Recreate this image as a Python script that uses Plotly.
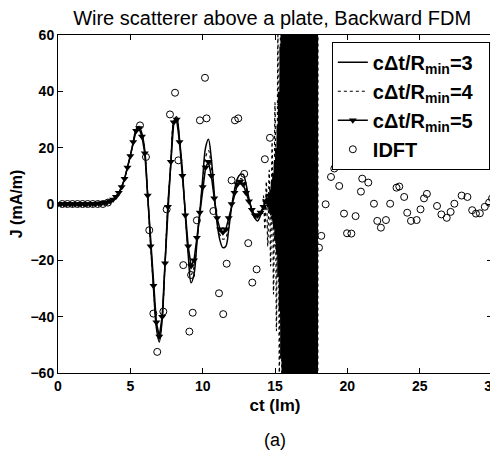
import numpy as np
import plotly.graph_objects as go

# time grid of the stable part (ct in lm)
ct_grid = np.round(np.arange(0, 14.41, 0.2), 2)

# c*dt/Rmin = 3 (solid)
j_dt3 = [0, 0, 0, 0, 0, 0, 0, 0, 0, 0, 0, 0, 0.1, 0.1, 0.2, 0.3, 0.4, 0.6, 1.0, 1.6,
         2.6, 4.0, 6.0, 9.0, 13, 17, 22, 26.5, 27.5, 25, 19, 3, -14, -30, -44, -49, -41, -21, 0, 14,
         29, 31, 23, 12, -4, -18, -28, -25, -14, -3, 9, 20, 23, 16, 4, -7, -13, -15.5, -15, -9,
         -1, 5, 9, 10.5, 10.5, 7, 2, -2, -5, -6, -4, -1, 2]
# c*dt/Rmin = 4 (dotted)
j_dt4 = [0, 0, 0, 0, 0, 0, 0, 0, 0, 0, 0, 0, 0.1, 0.1, 0.2, 0.3, 0.4, 0.6, 1.0, 1.6,
         2.6, 4.0, 6.0, 9.0, 13, 17, 22, 26, 27, 24.5, 18.5, 3, -14.5, -29.5, -43, -48, -40.5, -21, 0, 14.5,
         29, 30.5, 22.5, 11, -4, -16.5, -25, -22.5, -13, -3, 7.5, 16.5, 19, 13, 3, -6, -11, -12.5, -12, -7,
         -0.5, 4.5, 8, 9, 8.5, 5.5, 1.5, -2, -4.5, -5, -3.5]
# c*dt/Rmin = 5 (triangles)
j_dt5 = [0, 0, 0, 0, 0, 0, 0, 0, 0, 0, 0, 0, 0.1, 0.1, 0.2, 0.3, 0.4, 0.6, 1.0, 1.6,
         2.6, 4.0, 6.0, 9.0, 13, 17, 22, 26, 27, 24, 18, 3, -15, -29, -42, -47, -40, -21, -1, 15,
         29, 30, 22, 10, -4, -15, -22, -20, -12, -3, 6, 13, 15, 10, 2, -5, -9, -10, -9, -5,
         0, 4, 7, 8, 7, 4, 1, -2, -4, -4, -3, -1, 1]

# late-time instability of each scheme
ct_blow3 = np.round(np.arange(14.5, 17.96, 0.05), 2)
j_blow3 = [-1, 2, -3, 5, -4, 8, -6, 11, -9, 15, -13, 20, -18, 28, -26, 40, -38, 56, -55, 80,
           -80, 115, -120, 170, -180, 250, -300, 400, -400, 400, -400, 400, -400, 400, -400, 400,
           -400, 400, -400, 400, -400, 400, -400, 400, -400, 400, -400, 400, -400, 400, -400, 400,
           -400, 400, -400, 400, -400, 400, -400, 400, -400, 400, -400, 400, -400, 400, -400, 400,
           -400, 400]
ct_blow4 = np.round(np.arange(14.1, 18.01, 0.1), 2)
j_blow4 = [-4, 3, -9, 8, -15, 12, -22, 22, -32, 36, -45, 60, -62, 90, -110, 160, -220, 320, -450, 600,
           -800, 800, -800, 800, -800, 800, -800, 800, -800, 800, -800, 800, -800, 800, -800, 800,
           -800, 800, -800, 800]
ct_blow5 = np.round(np.arange(14.6, 18.01, 0.2), 2)
j_blow5 = [3, -2, 8, -15, 35, -80, 180, -400, 800, -800, 800, -800, 800, -800, 800, -800, 800, -800]

# IDFT reference samples
ct_idft = [0.3, 0.65, 1.0, 1.35, 1.7, 2.05, 2.4, 2.75, 3.1, 3.45,
           5.67, 6.08, 6.31, 6.59, 6.86, 7.28, 7.51, 7.74, 8.09, 8.32, 8.66, 9.08, 9.2, 9.31, 9.6,
           9.81, 10.16, 10.27, 10.74, 11.13, 11.42, 11.66, 12.0, 12.23, 12.46, 12.87, 13.15, 13.43,
           13.73, 14.3, 14.65, 15.2, 15.6, 16.1, 16.5, 16.9, 17.3, 17.7, 18.04, 18.2, 18.5, 18.87,
           19.1, 19.44, 19.77, 19.98, 20.28, 20.57, 20.94, 21.03, 21.45, 21.84, 22.07, 22.32, 22.67,
           22.96, 23.4, 23.59, 23.93, 24.14, 24.4, 24.79, 25.06, 25.3, 25.5, 26.2, 26.5, 26.87,
           27.14, 27.4, 27.9, 28.3, 28.63, 28.89, 29.16, 29.5, 29.8, 30.0]
j_idft = [0, 0, 0, 0, 0, 0, 0, 0, 0, 0.5,
          27.9, 16.7, -9.3, -38.9, -52.5, -38.2, -1.9, 31.8, 39.5, 15.5, -21.7, -45.3, -25.2, -38.6, -5.8,
          29.7, 44.8, 30.4, -2.5, -31.7, -39.1, -21.2, 8.4, 29.7, 30.4, 10.7, -13.9, -27.9,
          -23.2, 15.9, 23.5, -12, 20, -25, 18, -8, 10, -20, -15.5, -11.3, -0.1, 9.6,
          12.6, 6.4, -3.4, -10.4, -10.5, -4.3, 4.4, 9.0, 7.6, 0.1, -6.0, -8.4, -5.7,
          0.1, 5.8, 6.2, 2.5, -3.1, -6.0, -5.7, -1.9, 2.0, 3.6, -0.7, -3.7, -4.9,
          -2.8, 0.1, 3.0, 2.5, -2.2, -3.4, -3.3, -1.0, 0.5, 2.0]

fnt = "Liberation Sans, Arial, sans-serif"
pad = "\u00a0\u00a0"  # a bit of room on the right of the legend texts

fig = go.Figure()
fig.add_trace(go.Scatter(x=list(ct_grid) + list(ct_blow3), y=j_dt3 + j_blow3, mode="lines",
                         line=dict(color="black", width=1.5, shape="spline"),
                         name="cΔt/R<sub>min</sub>=3" + pad))
fig.add_trace(go.Scatter(x=list(ct_grid[:71]) + list(ct_blow4), y=j_dt4 + j_blow4, mode="lines",
                         line=dict(color="black", width=1.2, dash="dot", shape="spline"),
                         name="cΔt/R<sub>min</sub>=4" + pad))
fig.add_trace(go.Scatter(x=list(ct_grid) + list(ct_blow5), y=j_dt5 + j_blow5, mode="lines+markers",
                         line=dict(color="black", width=1.5),
                         marker=dict(symbol="triangle-down", size=7, color="black"),
                         name="cΔt/R<sub>min</sub>=5" + pad))
fig.add_trace(go.Scatter(x=ct_idft, y=j_idft, mode="markers",
                         marker=dict(symbol="circle-open", size=7, color="black", line=dict(width=1)),
                         name="IDFT"))

axis_common = dict(showline=True, linecolor="black", linewidth=1, mirror="ticks", ticks="inside",
                   ticklen=5, tickcolor="black", showgrid=False, zeroline=False, automargin=False,
                   ticklabeloverflow="allow",
                   tickfont=dict(family=fnt, size=14, color="black", weight="bold"))

# the page body adds an 8px offset, so the figure is 8px smaller than the window
fig.update_layout(
    width=490, height=455,
    margin=dict(l=50, r=6, t=27, b=90),
    plot_bgcolor="white", paper_bgcolor="white",
    font=dict(family=fnt, color="black"),
    title=dict(text="Wire scatterer above a plate, Backward FDM", x=0.539, xanchor="center",
               y=0.977, yanchor="middle", font=dict(family=fnt, size=20, color="black")),
    xaxis=dict(range=[0, 30], tickvals=[0, 5, 10, 15, 20, 25, 30],
               title=dict(text="ct (lm)", standoff=6,
                          font=dict(family=fnt, size=17, color="black", weight="bold")),
               **axis_common),
    yaxis=dict(range=[-60, 60], tickvals=[-60, -40, -20, 0, 20, 40, 60],
               title=dict(text="J (mA/m)", standoff=8,
                          font=dict(family=fnt, size=16, color="black", weight="bold")),
               **axis_common),
    legend=dict(x=0.995, xanchor="right", y=0.98, yanchor="top", bgcolor="white",
                bordercolor="black", borderwidth=1, tracegroupgap=0,
                font=dict(family=fnt, size=20, color="black", weight="bold")),
    annotations=[dict(text="(a)", x=0.5, y=-0.198, xref="paper", yref="paper",
                      xanchor="center", yanchor="middle", showarrow=False,
                      font=dict(family=fnt, size=18, color="black"))],
)

fig.write_html("out.html")
